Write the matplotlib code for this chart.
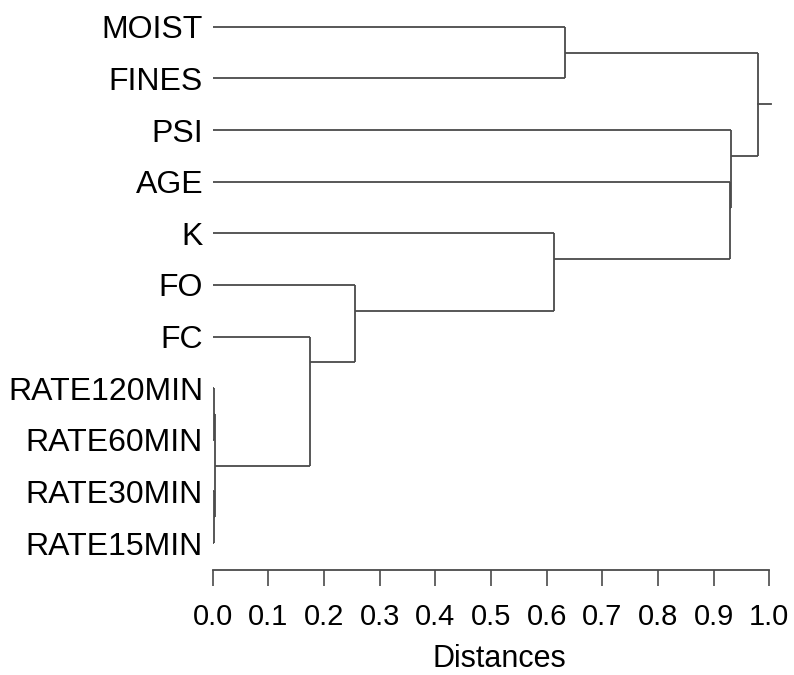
import matplotlib.pyplot as plt

# leaves, top to bottom
labels = ['MOIST', 'FINES', 'PSI', 'AGE', 'K', 'FO', 'FC',
          'RATE120MIN', 'RATE60MIN', 'RATE30MIN', 'RATE15MIN']

# merges: node ids 0..10 are leaves, merge i creates node 11+i
left_child = [7, 9, 11, 6, 5, 4, 0, 3, 2, 17]
right_child = [8, 10, 12, 13, 14, 15, 1, 16, 18, 19]
merge_dist = [0.002, 0.003, 0.004, 0.174, 0.256, 0.613, 0.633, 0.929, 0.931, 0.980]

xticks = [0.0, 0.1, 0.2, 0.3, 0.4, 0.5, 0.6, 0.7, 0.8, 0.9, 1.0]

plt.rcParams['font.family'] = ['Liberation Sans', 'DejaVu Sans']
line_col = '#4a4a4a'

fig = plt.figure(figsize=(7.94, 6.75), dpi=100)
ax = fig.add_axes([0.268, 0.1556, 0.722, 0.8444])

# node state: y position, distance, first leaf, last leaf
nodes = [(float(i), 0.0, i, i) for i in range(len(labels))]
for l, r, d in zip(left_child, right_child, merge_dist):
    yl, dl, fl, ll = nodes[l]
    yr, dr, fr, lr = nodes[r]
    ax.plot([dl, d], [yl, yl], color=line_col, lw=1.3, solid_capstyle='butt')
    ax.plot([dr, d], [yr, yr], color=line_col, lw=1.3, solid_capstyle='butt')
    ax.plot([d, d], [yl, yr], color=line_col, lw=1.3, solid_capstyle='butt')
    nodes.append(((ll + fr) / 2.0, d, fl, lr))

# root stub
root_y, root_d = nodes[-1][0], nodes[-1][1]
ax.plot([root_d, root_d + 0.023], [root_y, root_y], color=line_col, lw=1.3)

ax.set_xlim(0, 1.03)
ax.set_ylim(len(labels) - 1 + 0.52, -0.52)

ax.set_yticks(range(len(labels)))
ax.set_yticklabels(labels, fontsize=23)
ax.tick_params(axis='y', length=0, pad=7)

ax.set_xticks(xticks)
ax.set_xticklabels([f'{t:.1f}' for t in xticks], fontsize=21)
ax.tick_params(axis='x', direction='out', length=11.5, width=1.2,
               color=line_col, pad=12)
ax.set_xlabel('Distances', fontsize=22, labelpad=10)

for s in ['top', 'right', 'left']:
    ax.spines[s].set_visible(False)
ax.spines['bottom'].set_bounds(0, 1)
ax.spines['bottom'].set_color(line_col)
ax.spines['bottom'].set_linewidth(1.3)

fig.savefig('out.png', dpi=100)
